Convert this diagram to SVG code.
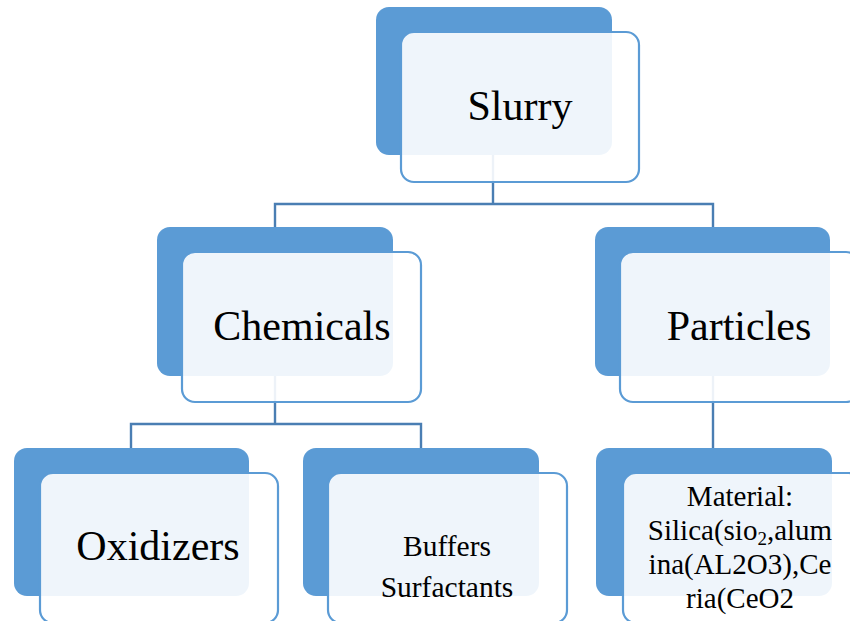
<svg xmlns="http://www.w3.org/2000/svg" width="850" height="621" viewBox="0 0 850 621">
<style>
.back{fill:#5B9BD5;}
.front{fill:#FFFFFF;fill-opacity:0.9;stroke:#5B9BD5;stroke-width:2.2;}
.conn{fill:none;stroke:#4A7EB3;stroke-width:2.4;}
text{font-family:"Liberation Serif","Times New Roman",serif;fill:#000;text-anchor:middle;}
.big{font-size:42px;}
.small{font-size:29.5px;}
.mat{font-size:29px;}
</style>
<rect width="850" height="621" fill="#FFFFFF"/>
<g id="connectors">
<path class="conn" d="M493 155 V204 M275 227 V204 H713 V227"/>
<path class="conn" d="M275 376 V424 M131 448 V424 H421 V448"/>
<path class="conn" d="M713 376 V448"/>
</g>
<g id="node-slurry">
<rect class="back" x="376" y="7" width="236" height="148" rx="13"/>
<rect class="front" x="401" y="32" width="238" height="150" rx="13"/>
<text class="big" x="520" y="120">Slurry</text>
</g>
<g id="node-chemicals">
<rect class="back" x="157" y="227" width="236" height="149" rx="13"/>
<rect class="front" x="182" y="252" width="239" height="150" rx="13"/>
<text class="big" x="302" y="340">Chemicals</text>
</g>
<g id="node-particles">
<rect class="back" x="595" y="227" width="235" height="149" rx="13"/>
<rect class="front" x="620" y="252" width="239" height="150" rx="13"/>
<text class="big" x="739" y="340">Particles</text>
</g>
<g id="node-oxidizers">
<rect class="back" x="14" y="448" width="235" height="148" rx="13"/>
<rect class="front" x="40" y="473" width="238" height="150" rx="13"/>
<text class="big" x="158" y="560">Oxidizers</text>
</g>
<g id="node-buffers">
<rect class="back" x="303" y="448" width="236" height="148" rx="13"/>
<rect class="front" x="328" y="473" width="239" height="150" rx="13"/>
<text class="small" x="447" y="556">Buffers</text>
<text class="small" x="447" y="597">Surfactants</text>
</g>
<g id="node-material">
<rect class="back" x="596" y="448" width="236" height="148" rx="13"/>
<rect class="front" x="623" y="473" width="239" height="150" rx="13"/>
<text class="mat" x="740" y="506">Material:</text>
<text class="mat" x="740" y="540">Silica(sio<tspan font-size="19px" dy="5">2</tspan><tspan dy="-5">,alum</tspan></text>
<text class="mat" x="740" y="574">ina(AL2O3),Ce</text>
<text class="mat" x="740" y="608">ria(CeO2</text>
</g>
</svg>
